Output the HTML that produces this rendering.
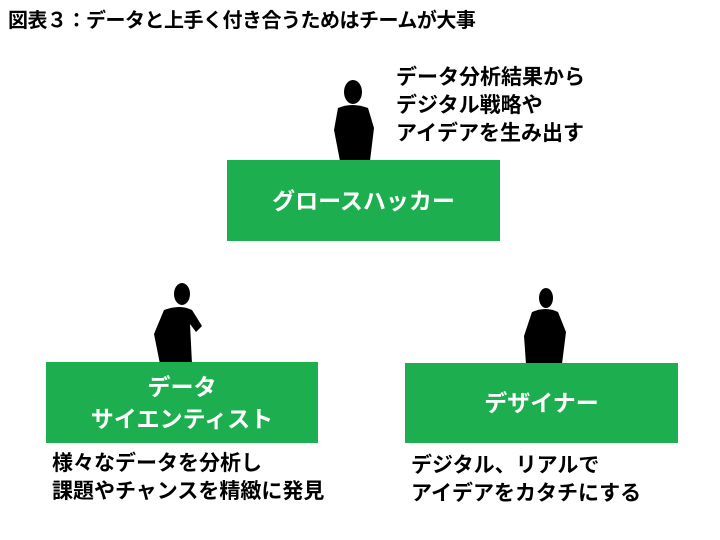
<!DOCTYPE html>
<html><head><meta charset="utf-8"><style>
body{margin:0;width:720px;height:540px;background:#fff;position:relative;overflow:hidden;font-family:"Liberation Sans","Noto Sans CJK JP",sans-serif;font-weight:bold;}
.t{position:absolute;white-space:nowrap;color:#000;}
.box{position:absolute;background:#1daf4f;color:#fff;display:flex;align-items:center;justify-content:center;text-align:center;font-size:23px;line-height:32px;}
svg{position:absolute;}
</style></head><body>
<div class="t" style="left:8px;top:4px;font-size:20px;letter-spacing:-0.5px;">図表３：データと上手く付き合うためはチームが大事</div>
<div class="t" style="left:396px;top:64px;font-size:21px;line-height:28px;">データ分析結果から<br>デジタル戦略や<br>アイデアを生み出す</div>
<svg style="left:330px;top:78px" width="50" height="83" viewBox="0 0 50 83"><ellipse cx="23" cy="14" rx="9" ry="12"/><path d="M8 30 Q22 24 38 30 L44 50 L40 83 L10 83 L4 52 Z"/></svg>
<div class="box" style="left:227px;top:160px;width:273px;height:81px;">グロースハッカー</div>
<svg style="left:146px;top:282px" width="62" height="82" viewBox="0 0 62 82"><ellipse cx="36" cy="12" rx="8" ry="11"/><path d="M18 28 Q34 22 46 28 L56 44 L50 50 L44 42 L46 82 L14 82 L8 52 Z"/></svg>
<div class="box" style="left:46px;top:362px;width:272px;height:81px;">データ<br>サイエンティスト</div>
<svg style="left:518px;top:286px" width="58" height="78" viewBox="0 0 58 78"><ellipse cx="28" cy="12" rx="7" ry="10"/><path d="M14 26 Q28 20 40 26 L48 46 L44 78 L8 78 L6 50 Z"/></svg>
<div class="box" style="left:405px;top:363px;width:273px;height:80px;">デザイナー</div>
<div class="t" style="left:52px;top:450px;font-size:21px;line-height:28px;">様々なデータを分析し<br>課題やチャンスを精緻に発見</div>
<div class="t" style="left:411px;top:452px;font-size:21px;line-height:28px;">デジタル、リアルで<br>アイデアをカタチにする</div>
</body></html>
